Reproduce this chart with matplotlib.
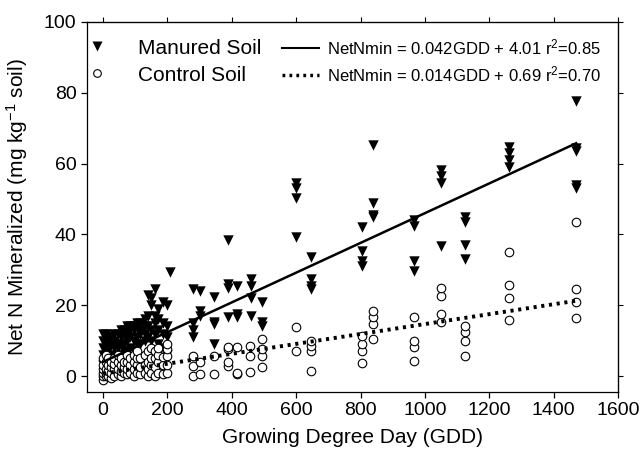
import numpy as np
import matplotlib.pyplot as plt
from matplotlib.lines import Line2D

plt.rcParams['font.family'] = ['Liberation Sans', 'DejaVu Sans']
plt.rcParams['mathtext.fontset'] = 'custom'
plt.rcParams['mathtext.rm'] = 'Liberation Sans'
plt.rcParams['mathtext.it'] = 'Liberation Sans:italic'

# sampling dates (GDD) and replicate values
manured_gdd = [0, 8, 16, 25, 35, 45, 55, 65, 75, 85, 95, 105, 115, 130, 140, 150,
               160, 170, 185, 200, 208, 280, 300, 345, 388, 416, 460, 494, 600, 645,
               805, 840, 965, 1050, 1125, 1260, 1470]
manured_n = [[3, 6, 8, 10, 12], [4, 7, 9, 11, 12], [5, 7, 8, 10], [4, 6, 9, 11],
             [5, 8, 10, 12], [6, 8, 9, 12], [6, 9, 11, 13], [7, 9, 12, 13],
             [7, 10, 12, 14], [8, 11, 13, 14], [7, 10, 13, 14], [9, 11, 14, 15],
             [9, 12, 13, 15], [10, 12, 14, 16], [11, 14, 17, 23], [10, 13, 20, 22],
             [12, 15, 17, 24.5], [9, 13, 16, 19], [8, 12, 15, 21], [6, 11, 14, 20],
             [29.5], [11, 13, 15, 24.5], [17, 18.3, 24], [9, 14.6, 15.2, 22.3],
             [16.6, 25, 26, 38.5], [16.6, 17.5, 25.4], [17, 22, 25.4, 27.3],
             [14, 15.2, 21], [39.4, 50.4, 53.2, 54.6], [24.5, 25.4, 27.3, 33.5],
             [31, 32.4, 35.2, 42], [44.8, 45.6, 49, 65.4], [29.6, 32.4, 42.3, 44],
             [36.6, 54.6, 56.5, 58.3], [33, 37, 43.4, 45], [59, 61, 63, 64.8],
             [53, 54, 63.5, 64.5, 77.8]]

control_gdd = [0, 8, 16, 25, 35, 45, 55, 65, 75, 85, 95, 105, 115, 130, 140, 150,
               160, 170, 185, 200, 280, 300, 345, 388, 416, 455, 494, 600, 645,
               805, 840, 965, 1050, 1125, 1260, 1470]
control_n = [[-1, 0, 1, 2, 3, 5], [0, 1, 2, 4, 6], [0, 1.5, 3, 5], [-0.5, 1, 2.5, 4],
             [0, 2, 3.5, 5], [0.5, 2, 4, 6], [0, 1.5, 3, 5], [1, 2.5, 4],
             [0.5, 2, 4, 6], [1, 3, 5], [0, 2, 4, 6], [1, 3, 5, 7], [0.5, 2.5, 5],
             [1, 3, 6], [0, 2, 4, 7], [1, 3, 5, 8], [0, 2.5, 5, 7], [1, 4, 6, 8],
             [0.5, 3, 5.5], [1, 3, 5.6, 7.6, 9], [0, 2.8, 5.6], [0.5, 4], [0.6, 5.6],
             [2.8, 4, 7.6, 8.2], [0.5, 1, 8.2], [1.1, 5.6, 8.5], [2.5, 5.6, 7.6, 10.4],
             [7, 13.8], [1.4, 7, 8.5, 9.9], [3.7, 7, 9, 11.3], [10.4, 14.6, 16.6, 18.3],
             [4.3, 8.2, 9.9, 16.6], [15.2, 17.5, 22.5, 25], [5.6, 10, 12.4, 14],
             [15.8, 22, 25.7, 35], [16.5, 21, 24.5, 43.5]]

# regression fits given in the legend
manured_fit = (0.042, 4.01)
control_fit = (0.014, 0.69)
fit_range = [0, 1470]

mx = np.concatenate([[g] * len(v) for g, v in zip(manured_gdd, manured_n)])
my = np.concatenate(manured_n)
cx = np.concatenate([[g] * len(v) for g, v in zip(control_gdd, control_n)])
cy = np.concatenate(control_n)

fig = plt.figure(figsize=(6.43, 4.62), dpi=100)
ax = fig.add_axes([87 / 643, 1 - 392 / 462, 531 / 643, 370 / 462])

ax.scatter(mx, my, marker='v', s=56, color='black', linewidths=0, zorder=2)
ax.scatter(cx, cy, marker='o', s=38, facecolor='white', edgecolor='black',
           linewidths=0.8, zorder=3)

xf = np.array(fit_range)
ax.plot(xf, manured_fit[0] * xf + manured_fit[1], color='black', lw=1.8, zorder=4)
ax.plot(xf, control_fit[0] * xf + control_fit[1], color='black', lw=2.8,
        linestyle=(0, (0.8, 1.2)), zorder=4)

ax.set_xlim(-50, 1600)
ax.set_ylim(-4.5, 100)
ax.set_xticks(np.arange(0, 1601, 200))
ax.set_yticks(np.arange(0, 101, 20))
ax.tick_params(axis='both', labelsize=14, direction='out', length=4, width=0.9)
ax.tick_params(axis='both', which='both', top=False, right=False)
ax.secondary_xaxis('top').set_xticks(np.arange(0, 1601, 200), labels=[])
ax.secondary_yaxis('right').set_yticks(np.arange(0, 101, 20), labels=[])
for sec in fig.axes[1:]:
    sec.tick_params(direction='in', length=4, width=0.9)
    for sp in sec.spines.values():
        sp.set_linewidth(0.9)
for sp in ax.spines.values():
    sp.set_linewidth(0.9)

ax.set_xlabel('Growing Degree Day (GDD)', fontsize=15, labelpad=6)
ax.set_ylabel('Net N Mineralized (mg kg$^{-1}$ soil)', fontsize=15, labelpad=10)

h1 = [Line2D([], [], marker='v', ls='none', color='black', ms=7.5, mec='none'),
      Line2D([], [], marker='o', ls='none', mfc='white', mec='black', ms=5.5, mew=0.8)]
leg1 = ax.legend(h1, ['Manured Soil', 'Control Soil'], loc='upper left',
                 bbox_to_anchor=(0.0, 0.955), frameon=False, fontsize=15,
                 handlelength=1.0, handletextpad=1.45, labelspacing=0.39,
                 borderpad=0, borderaxespad=0)
ax.add_artist(leg1)

h2 = [Line2D([], [], color='black', lw=1.5),
      Line2D([], [], color='black', lw=2.5, ls=(0, (0.8, 1.2)))]
eq1 = 'NetNmin = %.3fGDD + %.2f r$^{2}$=0.85' % manured_fit
eq2 = 'NetNmin = %.3fGDD + %.2f r$^{2}$=0.70' % control_fit
ax.legend(h2, [eq1, eq2], loc='upper left', bbox_to_anchor=(0.367, 0.959),
          frameon=False, fontsize=12, handlelength=2.2, handletextpad=0.5,
          labelspacing=0.42, borderpad=0, borderaxespad=0)

fig.savefig('out.png', dpi=100)
